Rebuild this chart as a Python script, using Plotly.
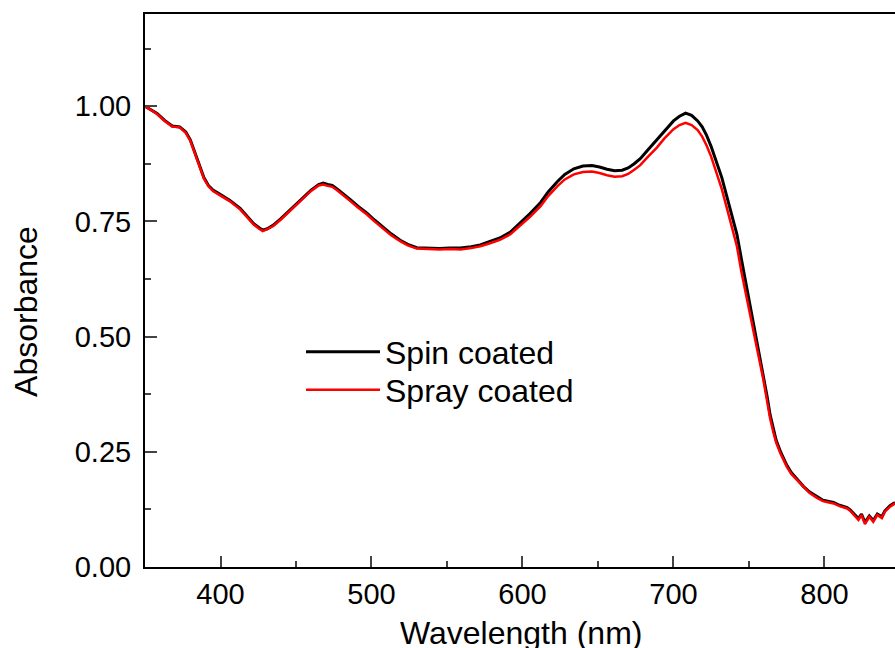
import plotly.graph_objects as go

wavelength = [350, 355, 358, 363, 368, 373, 377, 380, 383, 386, 389, 392, 395, 400, 406, 413, 418, 422, 426, 428,
              431, 435, 440, 444, 450, 455, 460, 465, 468, 471, 474, 477, 481, 486, 491, 497, 502, 508, 513, 519,
              524, 530, 537, 545, 552, 559, 566, 572, 578, 585, 592, 598, 605, 612, 617, 623, 628, 634, 640, 646,
              651, 656, 661, 666, 670, 674, 678, 683, 689, 694, 700, 704, 708, 712, 716, 719, 722, 725, 729, 732,
              735, 738, 742, 745, 748, 751, 755, 759.5, 762, 764, 766, 768, 771, 775, 778, 782, 786, 790, 795, 799,
              803, 806, 810, 813, 815, 817, 819, 821, 822.5, 824.5, 826.8, 829.7, 832.3, 835, 838, 840, 843.4, 846.7]

spray = [1.000, 0.990, 0.983, 0.968, 0.956, 0.954, 0.942, 0.925, 0.896, 0.868, 0.843, 0.826, 0.816, 0.806, 0.794,
         0.776, 0.758, 0.743, 0.733, 0.729, 0.733, 0.740, 0.754, 0.766, 0.785, 0.801, 0.816, 0.828, 0.830, 0.827,
         0.825, 0.818, 0.808, 0.794, 0.780, 0.765, 0.750, 0.733, 0.720, 0.707, 0.698, 0.691, 0.690, 0.689, 0.690,
         0.689, 0.692, 0.696, 0.702, 0.710, 0.722, 0.739, 0.760, 0.783, 0.805, 0.826, 0.841, 0.852, 0.857, 0.858,
         0.855, 0.850, 0.847, 0.848, 0.853, 0.862, 0.872, 0.890, 0.910, 0.930, 0.950, 0.959, 0.964, 0.959, 0.948,
         0.934, 0.914, 0.890, 0.852, 0.820, 0.783, 0.745, 0.696, 0.640, 0.590, 0.545, 0.479, 0.407, 0.360, 0.322,
         0.294, 0.270, 0.245, 0.218, 0.202, 0.188, 0.173, 0.161, 0.150, 0.143, 0.140, 0.138, 0.132, 0.129, 0.127,
         0.122, 0.114, 0.108, 0.102, 0.113, 0.093, 0.109, 0.098, 0.113, 0.106, 0.120, 0.131, 0.138]

spin = [1.000, 0.991, 0.984, 0.969, 0.957, 0.955, 0.944, 0.927, 0.898, 0.870, 0.845, 0.828, 0.818, 0.808, 0.796,
        0.778, 0.760, 0.745, 0.735, 0.731, 0.734, 0.742, 0.756, 0.768, 0.787, 0.803, 0.818, 0.830, 0.833, 0.830,
        0.828, 0.821, 0.811, 0.797, 0.783, 0.768, 0.753, 0.736, 0.723, 0.709, 0.700, 0.693, 0.692, 0.691, 0.692,
        0.692, 0.695, 0.699, 0.706, 0.714, 0.727, 0.745, 0.767, 0.791, 0.814, 0.836, 0.852, 0.864, 0.870, 0.871,
        0.868, 0.863, 0.860, 0.861, 0.866, 0.875, 0.886, 0.905, 0.927, 0.947, 0.968, 0.978, 0.985, 0.980, 0.968,
        0.955, 0.936, 0.912, 0.876, 0.845, 0.808, 0.770, 0.722, 0.668, 0.615, 0.565, 0.495, 0.420, 0.370, 0.330,
        0.300, 0.275, 0.249, 0.221, 0.205, 0.190, 0.175, 0.163, 0.152, 0.145, 0.142, 0.140, 0.134, 0.131, 0.129,
        0.124, 0.117, 0.111, 0.105, 0.115, 0.097, 0.111, 0.101, 0.115, 0.109, 0.122, 0.133, 0.140]

x_ticks = [400, 500, 600, 700, 800]
y_ticks = [0.00, 0.25, 0.50, 0.75, 1.00]
y_tick_labels = ["0.00", "0.25", "0.50", "0.75", "1.00"]

FONT = "Liberation Sans, Arial, sans-serif"

fig = go.Figure()
fig.add_trace(go.Scatter(x=wavelength, y=spin, mode="lines", name="Spin coated",
                         line=dict(color="black", width=3), legend="legend"))
fig.add_trace(go.Scatter(x=wavelength, y=spray, mode="lines", name="Spray coated",
                         line=dict(color="#ff0000", width=2.5), legend="legend2"))

legend_common = dict(xanchor="left", yanchor="middle", bgcolor="rgba(0,0,0,0)",
                     font=dict(size=32, family=FONT), itemwidth=74)

fig.update_layout(
    width=895, height=648,
    margin=dict(l=145, r=0, t=14, b=81),
    paper_bgcolor="white", plot_bgcolor="white",
    font=dict(family=FONT, color="black", size=29),
    showlegend=True,
    legend=dict(x=0.208, y=0.389, **legend_common),
    legend2=dict(x=0.208, y=0.320, **legend_common),
    xaxis=dict(range=[350, 846.7], tickvals=x_ticks, ticks="inside", ticklen=11, tickwidth=2,
               showline=True, linecolor="black", linewidth=2, mirror=True,
               showgrid=False, zeroline=False, ticklabelstandoff=0,
               tickfont=dict(size=29, family=FONT),
               minor=dict(dtick=50, tick0=350, ticks="inside", ticklen=6, tickwidth=2, showgrid=False)),
    yaxis=dict(range=[0, 1.2], tickvals=y_ticks, ticktext=y_tick_labels, ticks="inside", ticklen=12, tickwidth=2,
               showline=True, linecolor="black", linewidth=2, mirror=False,
               showgrid=False, zeroline=False, ticklabelstandoff=6,
               tickfont=dict(size=29, family=FONT),
               minor=dict(dtick=0.125, tick0=0, ticks="inside", ticklen=6, tickwidth=2, showgrid=False)),
    annotations=[
        dict(text="Absorbance", textangle=-90, xref="paper", yref="paper",
             x=-0.1587, y=0.463, xanchor="center", yanchor="middle", showarrow=False,
             font=dict(size=32, family=FONT)),
        dict(text="Wavelength (nm)", xref="paper", yref="paper",
             x=0.5013, y=-0.0832, xanchor="center", yanchor="top", showarrow=False,
             font=dict(size=32, family=FONT)),
    ],
)

fig.write_html(
    "out.html",
    config={"displayModeBar": False},
    post_script="document.documentElement.style.overflow='hidden';"
                "document.body.style.margin='0';document.body.style.overflow='hidden';",
)
